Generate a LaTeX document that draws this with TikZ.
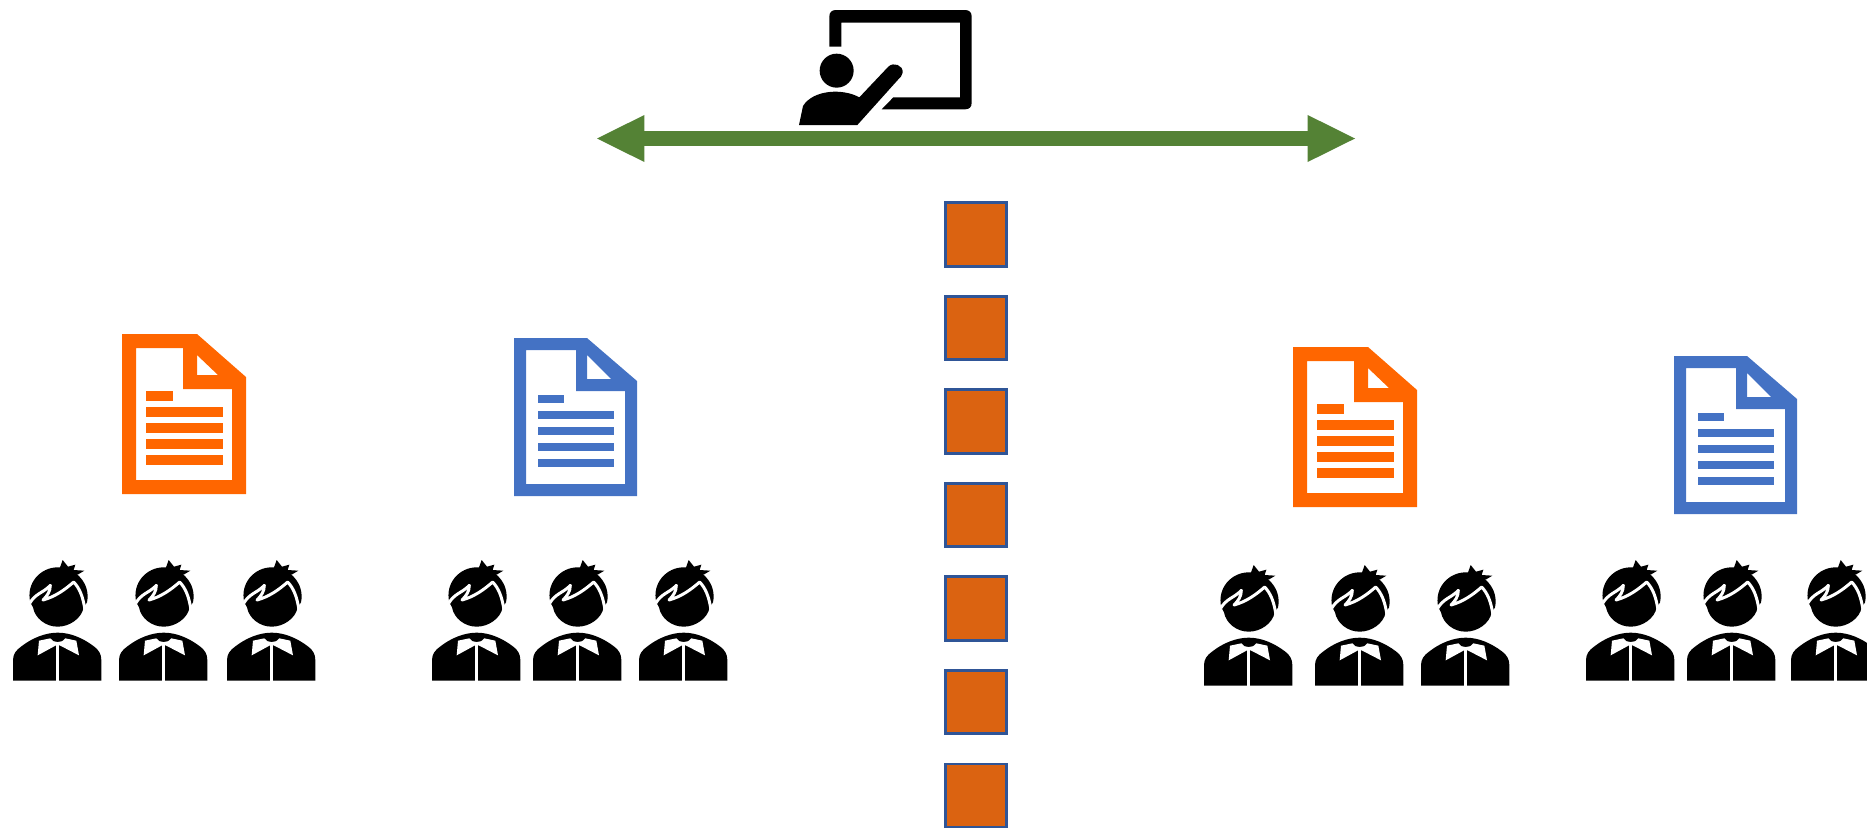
\documentclass[tikz,border=0pt]{standalone}
\usepackage{tikz}
\usetikzlibrary{arrows.meta}
\definecolor{docOrange}{HTML}{FF6600}
\definecolor{docBlue}{HTML}{4472C4}
\definecolor{arrowGreen}{HTML}{548235}
\definecolor{blockFill}{HTML}{DB6311}
\definecolor{blockEdge}{HTML}{2F5597}
\tikzset{
  blockNode/.style={%
    rectangle, inner sep=0pt, minimum width=0.61cm, minimum height=0.63cm,
    draw=blockEdge, line width=0.85pt, fill=blockFill,
  },
  boardArrow/.style={%
    arrowGreen, line width=4.27pt,
    {Triangle[length=13.5pt,width=13.4pt,line width=0pt,sep=0pt]}-{Triangle[length=13.5pt,width=13.4pt,line width=0pt,sep=0pt]},
  },
  docorange/.pic={
    \fill[docOrange,even odd rule]
      (0,0) -- (75,0) -- (124,43) -- (124,160) -- (0,160) -- cycle
      (14,14) -- (61,14) -- (61,55) -- (110,55) -- (110,146) -- (14,146) -- cycle
      (75,21) -- (96,41) -- (75,41) -- cycle;
    \fill[docOrange] (24,57) rectangle (51,67);
    \foreach \l in {73,89,105,121}
    {
      \fill[docOrange] (24,\l) rectangle (101,\l+10);
    }
  },
  docblue/.pic={
    \fill[docBlue,even odd rule]
      (0,0) -- (73,0) -- (123,43) -- (123,158) -- (0,158) -- cycle
      (12,12) -- (62,12) -- (62,53) -- (111,53) -- (111,146) -- (12,146) -- cycle
      (73,17) -- (97,41) -- (73,41) -- cycle;
    \fill[docBlue] (24,57) rectangle (50,65);
    \foreach \l in {73,89,105,121}
    {
      \fill[docBlue] (24,\l) rectangle (100,\l+8);
    }
  },
  student/.pic={
    \begin{scope}[scale=1/3,shift={(-38,-30)}]
      % hair and face
      \fill (90,157) .. controls (76,100) and (120,52) .. (172,52)
        .. controls (225,52) and (272,100) .. (260,157)
        -- (250,172) .. controls (244,205) and (208,230) .. (172,230)
        .. controls (136,230) and (104,205) .. (98,172) -- cycle;
      \fill (178,55) -- (187,30) -- (203,50) -- (225,44) -- (220,60)
        -- (252,62) -- (232,74) -- (200,70) -- cycle;
      \draw[white,line width=0.85pt,line join=round]
        (88,160) .. controls (105,130) and (130,128) .. (150,106)
        .. controls (150,125) and (140,138) .. (128,150)
        .. controls (165,140) and (195,118) .. (220,96)
        .. controls (238,115) and (248,140) .. (254,180);
      % jacket
      \fill (38,392) -- (38,330) .. controls (38,312) and (48,300) .. (62,290)
        .. controls (95,264) and (135,248) .. (172,248)
        .. controls (210,248) and (248,264) .. (282,290)
        .. controls (295,300) and (303,312) .. (303,330) -- (303,392) -- cycle;
      \fill[white] (116,272) -- (150,265) .. controls (156,280) and (188,280) .. (195,265)
        -- (228,272) -- (236,316) -- (178,286) -- (167,286) -- (112,316) -- cycle;
      \fill[white] (168,280) rectangle (177,392);
    \end{scope}
  },
  teacher/.pic={
    \begin{scope}[scale=1/3]
      \fill (148,140) -- (148,50) .. controls (148,37) and (155,30) .. (168,30)
        -- (555,30) .. controls (568,30) and (575,37) .. (575,50)
        -- (575,308) .. controls (575,321) and (568,328) .. (555,328)
        -- (305,328) -- (340,292) -- (540,292) -- (540,68)
        -- (184,68) -- (184,140) -- cycle;
      \fill (170,212) circle[radius=51];
      \fill (57,375) -- (69,318) .. controls (100,268) and (190,265) .. (238,292)
        -- (325,200) .. controls (340,185) and (370,195) .. (368,218)
        .. controls (367,228) and (360,232) .. (355,238) -- (232,375) -- cycle;
    \end{scope}
  },
}
\begin{document}
\begin{tikzpicture}[x=0.01cm,y=-0.01cm]
        \path[use as bounding box,clip] (0,0) rectangle (1867,827);
        \pic (board) at (780,0) {teacher};
        \coordinate (arrowL) at (597,138.5);
        \coordinate (arrowR) at (1355,138.5);
        \draw[boardArrow] (arrowL) -- (arrowR);
        \foreach \i [evaluate=\i as \y using {202+32.5+93.5*(\i-1)}] in {1,...,7}
        {
          \node[blockNode] (block\i) at (976,\y) {};
        }
        \pic (doc1) at (122,334) {docorange};
        \pic (doc2) at (514,338) {docblue};
        \pic (doc3) at (1293,347) {docorange};
        \pic (doc4) at (1674,356) {docblue};
        \foreach \i/\x/\y in {1/13/560,2/119/560,3/227/560,4/432/560,5/533/560,6/639/560,
          7/1204/565,8/1315/565,9/1421/565,10/1586/560,11/1687/560,12/1791/560}
        {
          \pic (student\i) at (\x,\y) {student};
        }
      \end{tikzpicture}
\end{document}
